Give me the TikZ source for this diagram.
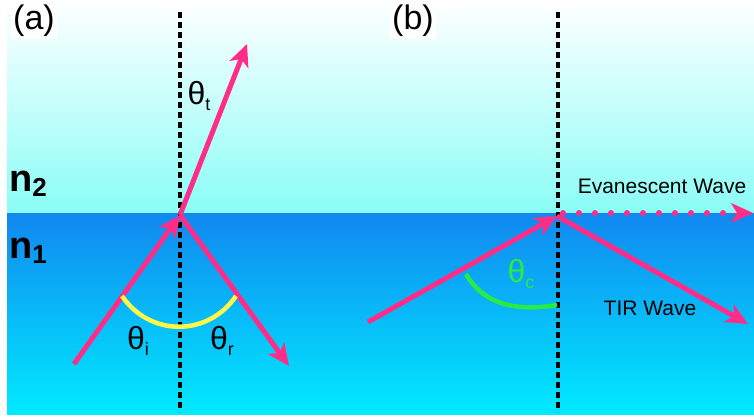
\documentclass[tikz,border=0pt]{standalone}
\usepackage{fontspec}
\setmainfont{Liberation Sans}
\usetikzlibrary{arrows.meta}
\definecolor{ray}{RGB}{255,45,135}
\definecolor{topc}{RGB}{138,253,246}
\definecolor{lowtop}{RGB}{17,136,240}
\definecolor{lowbot}{RGB}{0,234,255}
\definecolor{arcy}{RGB}{255,248,70}
\definecolor{arcg}{RGB}{40,235,70}
\begin{document}
\begin{tikzpicture}[x=1pt,y=-1pt,
  raytip/.style={-{Stealth[length=22pt,width=20pt,inset=6pt]}},
  rayline/.style={draw=ray,line width=5pt,raytip},
  normalline/.style={draw=black,line width=3.6pt,dash pattern=on 6pt off 4pt},
  panel/.style={font=\fontsize{34}{36}\selectfont,inner sep=2pt,fill=white},
  idx/.style={font=\fontsize{38}{40}\selectfont\bfseries,inner sep=0pt,anchor=west},
  ang/.style={font=\fontsize{32}{34}\selectfont,inner sep=0pt},
  lbl/.style={font=\fontsize{21}{24}\selectfont,inner sep=0pt},
  angarc/.style={line width=4.5pt}]
\useasboundingbox (0,0) rectangle (754,417);
% media
\shade[top color=white,bottom color=topc] (7,0) rectangle (754,213);
\shade[top color=lowtop,bottom color=lowbot] (7,213) rectangle (754,414);
% panel labels
\node[panel] (pa) at (34,21) {(a)};
\node[panel] (pb) at (413,21) {(b)};
\node[idx] (n2) at (9,184) {n\raisebox{-5pt}{\fontsize{26}{26}\selectfont 2}};
\node[idx] (n1) at (9,251) {n\raisebox{-5pt}{\fontsize{26}{26}\selectfont 1}};
% ---------- panel (a)
\coordinate (na0) at (180,12);
\coordinate (na1) at (180,412);
\draw[normalline] (na0) -- (na1);
\coordinate (Pa) at (180,215);
\coordinate (ia) at (74,364);
\coordinate (ta) at (247,44);
\coordinate (ra) at (289,366);
\draw[rayline] (ia) -- (Pa);
\draw[rayline] (Pa) -- (ta);
\draw[rayline] (Pa) -- (ra);
\coordinate (ya0) at (122,296);
\coordinate (ya1) at (236,296);
\draw[angarc,draw=arcy] (ya0) .. controls (150,337) and (208,337) .. (ya1);
\node[ang] (tht) at (199,96) {θ\raisebox{-6pt}{\fontsize{18}{18}\selectfont t}};
\node[ang] (thi) at (138,341) {θ\raisebox{-6pt}{\fontsize{18}{18}\selectfont i}};
\node[ang] (thr) at (222,341) {θ\raisebox{-6pt}{\fontsize{18}{18}\selectfont r}};
% ---------- panel (b)
\coordinate (nb0) at (558,12);
\coordinate (nb1) at (558,412);
\draw[normalline] (nb0) -- (nb1);
\coordinate (Pb) at (557,216);
\coordinate (ib) at (368,322);
\coordinate (tb) at (748,324);
\draw[rayline] (ib) -- (Pb);
\draw[rayline] (Pb) -- (tb);
\coordinate (ev0) at (563,213);
\coordinate (ev1) at (725,213);
\coordinate (ev2) at (732,213);
\coordinate (ev3) at (753,213);
\draw[ray,line width=6pt,line cap=round,dash pattern=on 0pt off 16pt] (ev0) -- (ev1);
\draw[draw=ray,line width=1pt,raytip] (ev2) -- (ev3);
\coordinate (gb0) at (466,274);
\coordinate (gb1) at (557,305);
\draw[angarc,draw=arcg] (gb0) .. controls (485,307) and (520,311) .. (gb1);
\node[ang,text=arcg] (thc) at (521,274) {θ\raisebox{-6pt}{\fontsize{18}{18}\selectfont c}};
\node[lbl] (ev) at (662,186) {Evanescent Wave};
\node[lbl] (tir) at (650,308) {TIR Wave};
\end{tikzpicture}
\end{document}
